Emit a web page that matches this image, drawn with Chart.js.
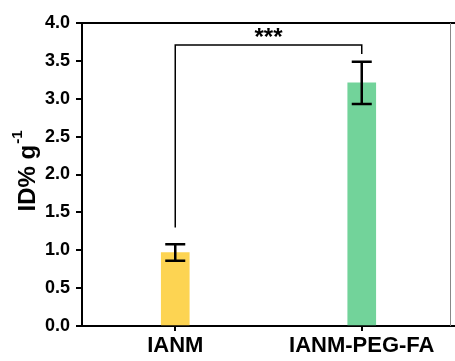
<!DOCTYPE html>
<html>
<head>
<meta charset="utf-8">
<script src="https://cdn.jsdelivr.net/npm/chart.js@4"></script>
<style>
  html, body { margin: 0; padding: 0; background: #fff; }
  #wrap { width: 455px; height: 361px; }
</style>
</head>
<body>
<div id="wrap"><canvas id="chart"></canvas></div>
<script>
const groups = ["IANM", "IANM-PEG-FA"];
const means = [0.97, 3.21];
const errors = [0.11, 0.28];
const barColors = ["#FDD452", "#72D39A"];
const yTicks = [0, 0.5, 1, 1.5, 2, 2.5, 3, 3.5, 4];
const bracketLevel = 3.71;
const bracketEnds = [1.30, 3.59];
const sigLabel = "***";

const FONT = "'Liberation Sans', Arial, sans-serif";

const errorBars = {
  id: "errorBars",
  afterDatasetsDraw(chart) {
    const ctx = chart.ctx;
    const y = chart.scales.y;
    const meta = chart.getDatasetMeta(0);
    ctx.save();
    ctx.strokeStyle = "#000";
    ctx.lineWidth = 2.5;
    meta.data.forEach((bar, i) => {
      const top = y.getPixelForValue(means[i] + errors[i]);
      const bot = y.getPixelForValue(means[i] - errors[i]);
      ctx.beginPath();
      ctx.moveTo(bar.x, top); ctx.lineTo(bar.x, bot);
      ctx.moveTo(bar.x - 10, top); ctx.lineTo(bar.x + 10, top);
      ctx.moveTo(bar.x - 10, bot); ctx.lineTo(bar.x + 10, bot);
      ctx.stroke();
    });

    // significance bracket
    const x0 = meta.data[0].x, x1 = meta.data[1].x;
    const yl = y.getPixelForValue(bracketLevel);
    ctx.lineWidth = 1.5;
    ctx.beginPath();
    ctx.moveTo(x0, y.getPixelForValue(bracketEnds[0]));
    ctx.lineTo(x0, yl);
    ctx.lineTo(x1, yl);
    ctx.lineTo(x1, y.getPixelForValue(bracketEnds[1]));
    ctx.stroke();
    ctx.fillStyle = "#000";
    ctx.font = "bold 24px " + FONT;
    ctx.textAlign = "center";
    ctx.textBaseline = "middle";
    ctx.fillText(sigLabel, (x0 + x1) / 2, yl - 7);

    // frame: thick top, thin right
    const a = chart.chartArea;
    ctx.lineWidth = 2;
    ctx.beginPath();
    ctx.moveTo(a.left - 6, a.top); ctx.lineTo(chart.width, a.top);
    ctx.stroke();
    ctx.strokeStyle = "#888";
    ctx.lineWidth = 1;
    ctx.beginPath();
    ctx.moveTo(450.5, a.top); ctx.lineTo(450.5, a.bottom);
    ctx.stroke();

    // y axis title with superscript
    ctx.translate(28, (a.top + a.bottom) / 2 - 3);
    ctx.rotate(-Math.PI / 2);
    ctx.fillStyle = "#000";
    ctx.textAlign = "left";
    ctx.textBaseline = "middle";
    const main = "ID% g";
    const sup = "-1";
    ctx.font = "bold 24px " + FONT;
    const w1 = ctx.measureText(main).width;
    ctx.font = "bold 15px " + FONT;
    const w2 = ctx.measureText(sup).width;
    const start = -(w1 + w2) / 2;
    ctx.font = "bold 24px " + FONT;
    ctx.fillText(main, start, 0);
    ctx.font = "bold 15px " + FONT;
    ctx.fillText(sup, start + w1 + 1, -10);
    ctx.restore();
  }
};

new Chart(document.getElementById("chart"), {
  type: "bar",
  data: {
    labels: groups,
    datasets: [{
      data: means,
      backgroundColor: barColors,
      borderWidth: 0,
      barThickness: 28
    }]
  },
  options: {
    responsive: true,
    maintainAspectRatio: false,
    animation: false,
    layout: { padding: { top: 23, right: 0, left: 0, bottom: 0 } },
    plugins: {
      legend: { display: false },
      tooltip: { enabled: false }
    },
    scales: {
      x: {
        grid: { offset: false, drawOnChartArea: false, drawTicks: true, tickLength: 5, tickColor: "#000", lineWidth: 2 },
        border: { color: "#000", width: 2 },
        ticks: {
          color: "#000",
          padding: 2,
          font: { family: FONT, size: 22, weight: "bold" }
        },
        afterFit(scale) { scale.height = 35; }
      },
      y: {
        min: 0,
        max: 4,
        afterBuildTicks(scale) { scale.ticks = yTicks.map(v => ({ value: v })); },
        grid: { drawOnChartArea: false, drawTicks: true, tickLength: 6, tickColor: "#000", lineWidth: 2 },
        border: { color: "#000", width: 2 },
        ticks: {
          color: "#000",
          padding: 6,
          callback: v => Number(v).toFixed(1),
          font: { family: FONT, size: 18, weight: "bold" }
        },
        afterFit(scale) { scale.width = 82; }
      }
    }
  },
  plugins: [errorBars]
});
</script>
</body>
</html>
